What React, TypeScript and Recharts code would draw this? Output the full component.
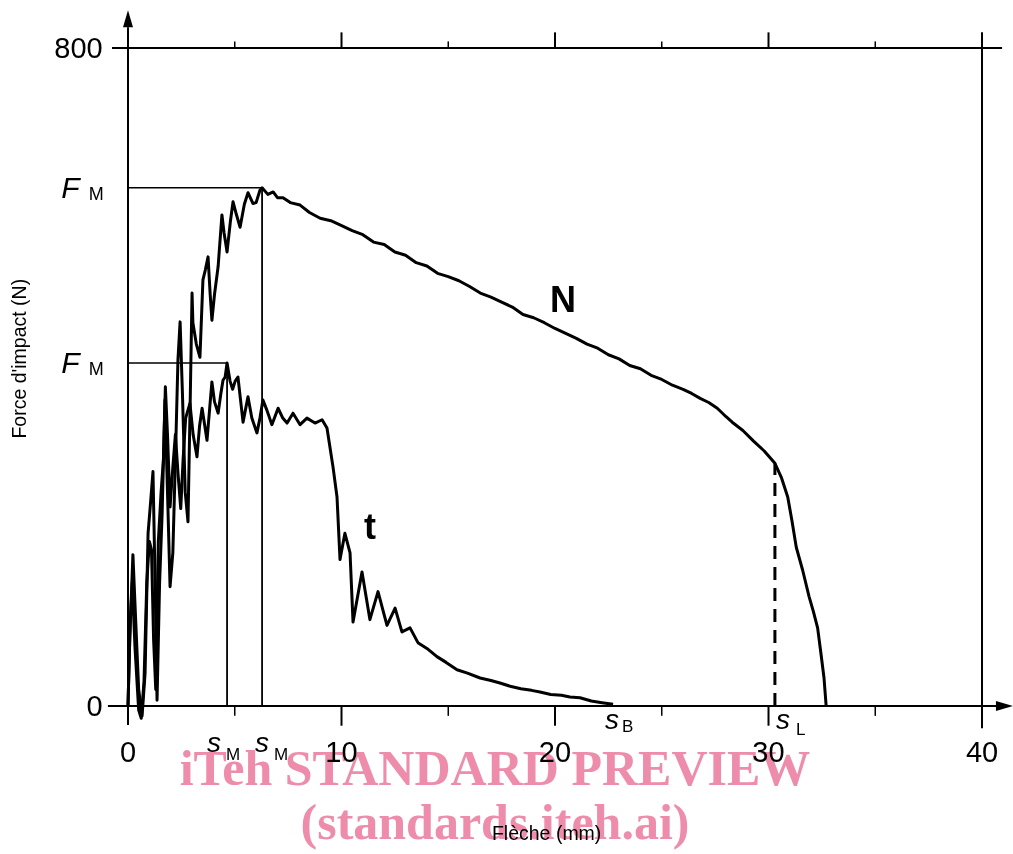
import { LineChart, Line, XAxis, YAxis, ReferenceLine, ReferenceDot } from 'recharts'

// courbe N (ductile)
const nDeflection = [
  0, 0.08, 0.23, 0.35, 0.5, 0.66, 0.8, 0.94, 1.05, 1.17, 1.27, 1.36, 1.48, 1.6, 1.73, 1.85, 1.97, 2.1, 2.22,
  2.34, 2.44, 2.55, 2.68, 2.81, 2.92, 3.0, 3.04, 3.2, 3.37, 3.51, 3.62, 3.75, 3.85, 3.93, 4.05, 4.22, 4.4, 4.5,
  4.64, 4.8, 4.92, 5.05, 5.25, 5.45, 5.62, 5.85, 6.0, 6.18, 6.28, 6.55, 6.8, 7.0, 7.26, 7.6, 8.06, 8.5, 9.0,
  9.5, 9.93, 10.5, 11, 11.5, 12, 12.5, 13, 13.5, 14, 14.5, 15, 15.5, 16, 16.5, 17, 17.5, 18, 18.5, 19, 19.5,
  20, 20.5, 21, 21.5, 22, 22.5, 23, 23.5, 24, 24.5, 25, 25.5, 26, 26.4, 26.8, 27.2, 27.6, 28.0, 28.3, 28.8,
  29.3, 29.8, 30.3, 30.6, 30.9, 31.1, 31.3, 31.6, 31.9, 32.1, 32.3, 32.45, 32.6, 32.7,
]
const nForce = [
  0, 80, 184, 110, 20, -12, 40, 210, 245, 285, 150, 7, 150, 235, 372, 260, 145, 186, 300,
  421, 467, 380, 260, 224, 380, 502, 466, 440, 424, 518, 530, 546, 500, 469, 500, 534, 597, 575,
  552, 590, 613, 600, 582, 610, 624, 611, 612, 627, 630, 622, 625, 618, 618, 612, 609, 600, 593,
  590, 585, 578, 573, 564, 561, 552, 548, 539, 535, 526, 522, 517, 510, 502, 497, 491, 485, 476, 472, 466,
  459, 453, 447, 440, 435, 427, 422, 414, 410, 402, 397, 390, 385, 380, 374, 369, 362, 352, 345, 335,
  322, 310, 295, 278, 254, 225, 193, 165, 133, 115, 95, 65, 34, 0,
]

// courbe t (fragile)
const tDeflection = [
  0, 0.1, 0.2, 0.33, 0.5, 0.62, 0.75, 0.88, 1.0, 1.1, 1.2, 1.3, 1.42, 1.55, 1.66, 1.75, 1.85, 1.97, 2.1, 2.22,
  2.35, 2.47, 2.58, 2.7, 2.9, 3.05, 3.23, 3.35, 3.47, 3.6, 3.7, 3.82, 3.93, 4.05, 4.22, 4.35, 4.45, 4.55, 4.64,
  4.78, 4.9, 5.02, 5.15, 5.28, 5.39, 5.5, 5.62, 5.8, 6.04, 6.18, 6.32, 6.5, 6.74, 7.03, 7.25, 7.45, 7.73, 8.06,
  8.38, 8.76, 9.09, 9.32, 9.6, 9.79, 9.93, 10.16, 10.4, 10.54, 10.96, 11.33, 11.71, 12.13, 12.51, 12.83, 13.21,
  13.58, 14.0, 14.47, 14.9, 15.41, 15.9, 16.49, 17.0, 17.42, 17.9, 18.4, 18.9, 19.3, 19.8, 20.3, 20.7, 21.17,
  21.7, 22.2, 22.72,
]
const tForce = [
  0, 100, 150, 70, -5, -15, 30, 150, 200, 190, 80, 20, 200, 260, 300, 388, 330, 242, 290, 330,
  280, 240, 299, 350, 368, 330, 303, 340, 362, 340, 323, 360, 394, 370, 356, 380, 396, 400, 417,
  395, 385, 395, 400, 370, 345, 360, 376, 350, 332, 350, 372, 360, 342, 362, 350, 344, 356, 342,
  350, 344, 348, 338, 291, 254, 178, 210, 186, 102, 163, 105, 139, 98, 119, 90, 95,
  77, 70, 60, 53, 44, 40, 34, 31, 28, 24, 21, 19, 17, 14, 13, 11, 10,
  6, 4, 2,
]

const fmN = 630
const smN = 6.28
const fmT = 417
const smT = 4.64
const sB = 22.72
const sL = 30.3
const fL = 295

const xTicks = [0, 10, 20, 30, 40]
const xMinor = [5, 15, 25, 35]
const yTicks = [0, 800]

const subLabels = [
  { at: smT, sub: 'M', dx: -20, dy: 27, subDy: 8, gap: 5 },
  { at: smN, sub: 'M', dx: -7, dy: 27, subDy: 8, gap: 5 },
  { at: sB, sub: 'B', dx: -8, dy: 4, subDy: 3, gap: 3 },
  { at: sL, sub: 'L', dx: 1, dy: 4, subDy: 6, gap: 6 },
]

const nData = nDeflection.map((x, i) => ({ x, f: nForce[i] }))
const tData = tDeflection.map((x, i) => ({ x, f: tForce[i] }))

const FONT = '"Liberation Sans", Arial, sans-serif'
const INK = '#000'

function AxisArrow(p: any) {
  const { x1, y1, x2, y2 } = p
  const len = Math.hypot(x2 - x1, y2 - y1) || 1
  const ux = (x2 - x1) / len
  const uy = (y2 - y1) / len
  const hl = 17
  const hw = 5
  const bx = x2 - ux * hl
  const by = y2 - uy * hl
  return (
    <g>
      <line x1={x1} y1={y1} x2={bx} y2={by} stroke={INK} strokeWidth={2} />
      <polygon
        points={`${x2},${y2} ${bx - uy * hw},${by + ux * hw} ${bx + uy * hw},${by - ux * hw}`}
        fill={INK}
      />
    </g>
  )
}

function XTick({ x, y, payload }: any) {
  const v = payload.value
  const s = subLabels.find((l) => l.at === v)
  if (s) {
    return (
      <text x={x + s.dx} y={y + s.dy} fontFamily={FONT} fill={INK}>
        <tspan fontStyle="italic" fontSize={28}>s</tspan>
        <tspan fontSize={17} dx={s.gap} dy={s.subDy}>{s.sub}</tspan>
      </text>
    )
  }
  return (
    <text x={x} y={y + 37} textAnchor="middle" fontFamily={FONT} fontSize={29} fill={INK}>
      {v}
    </text>
  )
}

function YTick({ x, y, payload }: any) {
  const v = payload.value
  if (v === fmN || v === fmT) {
    return (
      <text x={x - 3} y={y + 10} textAnchor="end" fontFamily={FONT} fill={INK}>
        <tspan fontStyle="italic" fontSize={30}>F</tspan>
        <tspan fontSize={18} dx={9} dy={2}>M</tspan>
      </text>
    )
  }
  return (
    <text x={x - 4} y={y} dy="0.355em" textAnchor="end" fontFamily={FONT} fontSize={29} fill={INK}>
      {v}
    </text>
  )
}

function YTitle({ viewBox }: any) {
  const cx = viewBox.x + 19
  const cy = viewBox.y + viewBox.height / 2 - 8
  return (
    <text
      x={cx}
      y={cy}
      transform={`rotate(-90 ${cx} ${cy})`}
      textAnchor="middle"
      dominantBaseline="central"
      fontFamily={FONT}
      fontSize={19.5}
      fill={INK}
    >
      Force d'impact (N)
    </text>
  )
}

function XTitle({ viewBox }: any) {
  return (
    <text
      x={viewBox.x + 440}
      y={viewBox.y + 115}
      textAnchor="middle"
      fontFamily={FONT}
      fontSize={19.5}
      fill={INK}
    >
      Flèche (mm)
    </text>
  )
}

const CurveLabel = (text: string) => (p: any) => (
  <text
    x={p.cx}
    y={p.cy}
    textAnchor="middle"
    dominantBaseline="central"
    fontFamily={FONT}
    fontWeight="bold"
    fontSize={36}
    fill={INK}
  >
    {text}
  </text>
)

const seg = (x1: number, y1: number, x2: number, y2: number) => [
  { x: x1, y: y1 },
  { x: x2, y: y2 },
]

export default function App() {
  return (
    <div style={{ position: 'absolute', left: 0, top: 0, width: 1013, height: 854, background: '#fff' }}>
      <LineChart width={1013} height={854} margin={{ top: 8.5, right: 1.1, bottom: 69.1, left: 0 }}>
        <XAxis
          dataKey="x"
          type="number"
          domain={[-1, 41.4]}
          allowDataOverflow
          ticks={[...xTicks, smT, smN, sB, sL]}
          interval={0}
          height={60}
          axisLine={false}
          tickLine={false}
          tickSize={0}
          tickMargin={0}
          tick={<XTick />}
          label={<XTitle />}
        />
        <YAxis
          type="number"
          domain={[-23, 848]}
          allowDataOverflow
          ticks={[...yTicks, fmT, fmN]}
          interval={0}
          width={106.65}
          axisLine={false}
          tickLine={false}
          tickSize={0}
          tickMargin={0}
          tick={<YTick />}
          label={<YTitle />}
        />

        {/* cadre / axes */}
        <ReferenceLine segment={seg(0, -23, 0, 846)} ifOverflow="visible" shape={AxisArrow} />
        <ReferenceLine segment={seg(-0.94, 0, 41.45, 0)} ifOverflow="visible" shape={AxisArrow} />
        <ReferenceLine segment={seg(-0.75, 800, 40.94, 800)} ifOverflow="visible" stroke={INK} strokeWidth={2} />
        <ReferenceLine segment={seg(40, -27, 40, 819)} ifOverflow="visible" stroke={INK} strokeWidth={2} />
        {xTicks.filter((t) => t > 0 && t < 40).map((t) => (
          <ReferenceLine key={`tt${t}`} segment={seg(t, 800, t, 819)} ifOverflow="visible" stroke={INK} strokeWidth={2} />
        ))}
        {xTicks.filter((t) => t > 0 && t < 40).map((t) => (
          <ReferenceLine key={`bt${t}`} segment={seg(t, -24, t, 0)} ifOverflow="visible" stroke={INK} strokeWidth={2} />
        ))}
        {xMinor.map((t) => (
          <ReferenceLine key={`tm${t}`} segment={seg(t, 800, t, 808)} ifOverflow="visible" stroke={INK} strokeWidth={1.5} />
        ))}
        {xMinor.map((t) => (
          <ReferenceLine key={`bm${t}`} segment={seg(t, -12, t, 0)} ifOverflow="visible" stroke={INK} strokeWidth={1.5} />
        ))}

        {/* F_M / s_M repères */}
        <ReferenceLine segment={seg(0, fmN, smN, fmN)} ifOverflow="visible" stroke={INK} strokeWidth={1.6} />
        <ReferenceLine segment={seg(smN, 0, smN, fmN)} ifOverflow="visible" stroke={INK} strokeWidth={1.8} />
        <ReferenceLine segment={seg(0, fmT, smT, fmT)} ifOverflow="visible" stroke={INK} strokeWidth={1.6} />
        <ReferenceLine segment={seg(smT, 0, smT, fmT)} ifOverflow="visible" stroke={INK} strokeWidth={1.8} />
        <ReferenceLine
          segment={seg(sL, 0, sL, fL)}
          ifOverflow="visible"
          stroke={INK}
          strokeWidth={3}
          strokeDasharray="13 8"
        />

        <Line
          data={nData}
          dataKey="f"
          type="linear"
          stroke={INK}
          strokeWidth={3}
          strokeLinejoin="round"
          dot={false}
          isAnimationActive={false}
        />
        <Line
          data={tData}
          dataKey="f"
          type="linear"
          stroke={INK}
          strokeWidth={3}
          strokeLinejoin="round"
          dot={false}
          isAnimationActive={false}
        />

        <ReferenceDot x={20.37} y={494} r={0} ifOverflow="visible" shape={CurveLabel('N')} />
        <ReferenceDot x={11.33} y={218} r={0} ifOverflow="visible" shape={CurveLabel('t')} />
      </LineChart>

      <svg
        width={1013}
        height={854}
        style={{ position: 'absolute', left: 0, top: 0, pointerEvents: 'none', mixBlendMode: 'multiply' }}
      >
        <g fontFamily='"Liberation Serif", "Times New Roman", serif' fontWeight="bold" fontSize={50} fill="#ee8dab" textAnchor="middle">
          <text x={495} y={785}>iTeh STANDARD PREVIEW</text>
          <text x={495} y={839}>(standards.iteh.ai)</text>
        </g>
      </svg>
    </div>
  )
}
